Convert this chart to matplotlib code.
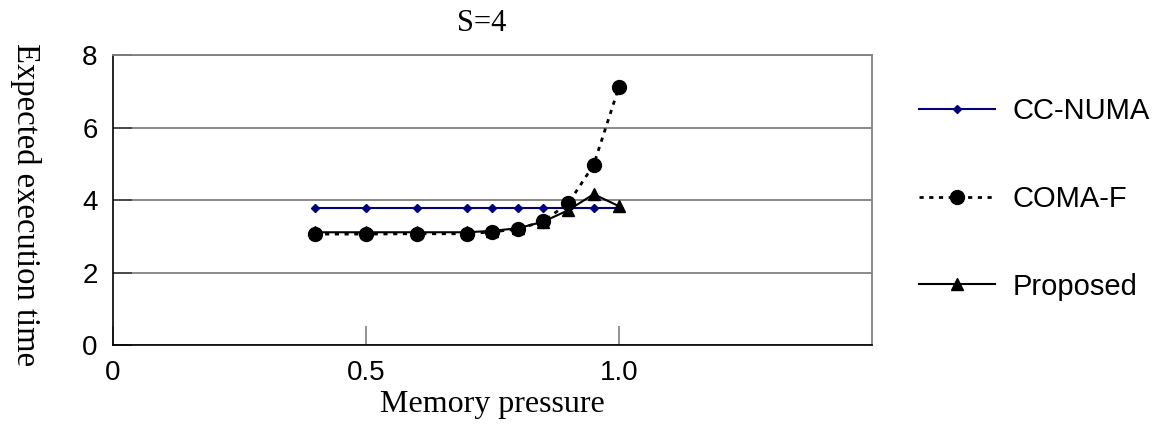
import matplotlib
matplotlib.use("Agg")
import matplotlib.pyplot as plt

# memory pressure values and expected execution time per scheme
pressure = [0.4, 0.5, 0.6, 0.7, 0.75, 0.8, 0.85, 0.9, 0.95, 1.0]
cc_numa = [3.78, 3.78, 3.78, 3.78, 3.78, 3.78, 3.78, 3.78, 3.78, 3.78]
coma_f = [3.06, 3.06, 3.07, 3.07, 3.12, 3.2, 3.41, 3.91, 4.97, 7.12]
proposed = [3.11, 3.11, 3.11, 3.11, 3.15, 3.22, 3.4, 3.72, 4.16, 3.83]

x_ticks = [0, 0.5, 1.0]
x_ticklabels = ["0", "0.5", "1.0"]
y_ticks = [0, 2, 4, 6, 8]

sans = "Liberation Sans"
serif = "Liberation Serif"

fig = plt.figure(figsize=(11.6, 4.25), dpi=100)
ax = fig.add_axes([0.0974, 0.1882, 0.6543, 0.6824])

ax.plot(pressure, cc_numa, color="#000080", lw=1.5, marker="D", ms=4.5,
        label="CC-NUMA")
ax.plot(pressure, coma_f, color="black", lw=2, ls=(0, (1.5, 2)), marker="o",
        ms=10, label="COMA-F")
ax.plot(pressure, proposed, color="black", lw=1.5, marker="^", ms=9,
        label="Proposed")

ax.set_xlim(0, 1.5)
ax.set_ylim(0, 8)
ax.set_xticks(x_ticks)
ax.set_xticklabels(x_ticklabels, fontfamily=sans, fontsize=20)
ax.set_yticks(y_ticks)
ax.set_yticklabels([str(v) for v in y_ticks], fontfamily=sans, fontsize=20)
ax.tick_params(axis="both", direction="in", length=14, width=1.2)
ax.tick_params(axis="x", pad=11, color="#808080")
ax.tick_params(axis="y", pad=11, color="#404040")

# horizontal grid lines
ax.grid(axis="y", color="#808080", lw=1.3)
ax.set_axisbelow(True)
for side in ["top", "right"]:
    ax.spines[side].set_color("#808080")
    ax.spines[side].set_linewidth(1.3)
ax.spines["left"].set_color("black")
ax.spines["bottom"].set_color("black")
ax.spines["left"].set_linewidth(1.2)
ax.spines["bottom"].set_linewidth(1.2)

ax.set_xlabel("Memory pressure", fontfamily=serif, fontsize=23, labelpad=3)
fig.text(0.022, 0.518, "Expected execution time", fontfamily=serif,
         fontsize=23.5, rotation=270, ha="center", va="center")
fig.text(0.415, 0.945, "S=4", fontfamily=serif, fontsize=22,
         ha="center", va="center")

leg = ax.legend(loc="upper left", bbox_to_anchor=(1.047, 0.895),
                frameon=False, prop={"family": sans, "size": 21},
                handlelength=2.6, handletextpad=0.6, labelspacing=2.05,
                borderaxespad=0)

fig.savefig("out.png", dpi=100)
